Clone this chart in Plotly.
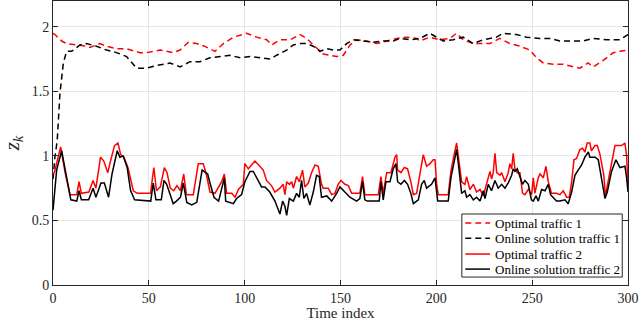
import plotly.graph_objects as go

# ---------------------------------------------------------------------------
# data (time index, z_k)

# optimal traffic 1 (red dashed)
t_opt1 = [0, 1, 4.5, 7.1, 12.3, 17.5, 19.2, 24.5, 27.9, 33.2, 38.4, 45.3, 48.9, 55.9, 62.8,
          66.3, 70.6, 75, 79, 81.9, 84.5, 88.9, 94.1, 101, 106.3, 111.5, 114.1, 118.4, 123.7,
          128.9, 132.3, 135.8, 141, 148, 151.5, 155, 158.4, 163.7, 168.9, 174.1, 179.3, 184.5,
          189.7, 191.4, 196.6, 201.8, 207.1, 210.5, 214, 219.2, 224.4, 227.9, 233.1, 238.4,
          243.6, 248.8, 252.3, 255.8, 261, 266.2, 271.4, 274.9, 279.2, 281.8, 287.1, 292.3,
          295.7, 300]
z_opt1 = [1.95, 1.94, 1.89, 1.87, 1.86, 1.85, 1.84, 1.87, 1.85, 1.83, 1.83, 1.80, 1.80, 1.82, 1.80,
          1.82, 1.88, 1.87, 1.85, 1.83, 1.81, 1.87, 1.92, 1.95, 1.92, 1.90, 1.86, 1.90, 1.90,
          1.94, 1.91, 1.86, 1.79, 1.77, 1.78, 1.86, 1.90, 1.89, 1.87, 1.89, 1.91, 1.92,
          1.91, 1.89, 1.92, 1.90, 1.91, 1.95, 1.90, 1.87, 1.87, 1.87, 1.91, 1.87,
          1.85, 1.82, 1.76, 1.72, 1.71, 1.71, 1.69, 1.68, 1.72, 1.69, 1.74, 1.80,
          1.81, 1.82]

# online solution traffic 1 (black dashed)
t_onl1 = [0, 1, 2.2, 3.65, 5.4, 7.1, 9.7, 14.1, 17.5, 22.7, 27.9, 33.2, 38.4, 43.6, 48.9, 54.1,
          61.1, 66.3, 71.5, 76.7, 81.9, 87.1, 92.3, 97.6, 102.8, 108, 113.2, 116.7, 121.9,
          125.4, 128.9, 132.3, 135.8, 139.3, 142.8, 146.3, 149.7, 153.2, 156.7, 161.9, 167.1,
          172.3, 177.6, 181, 186.3, 191.4, 196.6, 200.1, 203.6, 208.8, 214, 219.2, 224.4,
          231.4, 234.9, 241.8, 247.1, 254, 259.2, 264.4, 271.4, 276.6, 281.8, 288.8, 295.7, 300]
z_onl1 = [0.82, 0.99, 1.12, 1.49, 1.72, 1.81, 1.81, 1.86, 1.87, 1.85, 1.82, 1.80, 1.77, 1.68, 1.68, 1.70,
          1.72, 1.69, 1.73, 1.73, 1.76, 1.77, 1.78, 1.76, 1.77, 1.76, 1.75, 1.78, 1.82,
          1.86, 1.87, 1.87, 1.85, 1.81, 1.83, 1.82, 1.82, 1.87, 1.90, 1.89, 1.88,
          1.89, 1.89, 1.91, 1.90, 1.91, 1.95, 1.92, 1.89, 1.90, 1.92, 1.87, 1.90,
          1.92, 1.95, 1.94, 1.92, 1.91, 1.91, 1.89, 1.89, 1.89, 1.91, 1.90, 1.90, 1.94]

# optimal traffic 2 (red solid)
t_opt2 = [0, 0.7, 4, 6.3, 8.9, 12.4, 13.6, 14.8, 18.7, 20.9, 22.4, 24.8, 26.5, 28.6, 30, 32.1,
          33.9, 35.3, 37, 39.1, 40.5, 41.9, 44, 50.9, 52.6, 54, 56, 58.1, 59.5, 61.2, 63,
          64.7, 66.5, 68.2, 69.6, 73.2, 75.8, 78.4, 80.1, 81.9, 84.5, 88, 89.4, 90.6, 93.2,
          95, 96.7, 99.3, 100.1, 101.9, 103.6, 105.3, 107.9, 109.7, 111.4, 114, 115.8, 118.4,
          120.1, 121, 121.9, 123.3, 124.5, 125.4, 127.1, 128.5, 130.2, 131.4, 133.2, 134.9,
          136.7, 138.4, 140.1, 141, 143.6, 145.4, 147.1, 148.8, 150.2, 152.3, 154.1, 155.8,
          160.1, 161.5, 162.7, 169.7, 171.1, 172.3, 174.1, 176.3, 178.4, 179.3, 179.8, 181.5,
          183.3, 185, 186.7, 188, 189.7, 191.4, 193.2, 194.9, 196.7, 198.4, 199.3, 200.1,
          201, 206.2, 207.6, 209.4, 210.6, 211.8, 213.2, 214.9, 215.8, 217.5, 219.3, 221,
          222.8, 224.5, 226.2, 228, 228.8, 229.7, 230.6, 231.5, 233.2, 234.1, 235.8, 237.5,
          238.4, 239.3, 240.1, 241, 242.2, 243.6, 245, 246.2, 248, 249.7, 250.6, 251.4, 253.2,
          254.1, 255.8, 257.2, 258.4, 259.3, 260.1, 262.7, 264.5, 266.2, 268, 269.4, 270.6,
          271.8, 273.2, 274.9, 276.3, 277.5, 278.7, 280.1, 280.9, 282.8, 284, 285.4, 287.4,
          288.2, 290.6, 293.2, 296.7, 298.4, 299.3, 300]
z_opt2 = [0.86, 0.87, 1.07, 0.87, 0.70, 0.70, 0.80, 0.71, 0.72, 0.81, 0.75, 0.99, 0.96, 0.87, 0.96, 1.08,
          1.10, 1.01, 0.99, 0.91, 0.82, 0.73, 0.71, 0.71, 0.91, 0.73, 0.76, 0.91, 0.87, 0.75, 0.73,
          0.77, 0.73, 0.86, 0.70, 0.70, 0.94, 0.94, 0.85, 0.72, 0.71, 0.80, 0.86, 0.71, 0.71,
          0.68, 0.74, 0.78, 0.94, 0.90, 0.93, 0.96, 0.92, 0.89, 0.81, 0.77, 0.72, 0.75,
          0.78, 0.70, 0.80, 0.78, 0.80, 0.75, 0.84, 0.80, 0.89, 0.76, 0.79, 0.87,
          0.93, 0.92, 0.78, 0.75, 0.75, 0.70, 0.71, 0.78, 0.81, 0.78, 0.77, 0.71,
          0.71, 0.84, 0.70, 0.70, 0.84, 0.71, 0.87, 0.87, 0.99, 1.01, 0.89, 0.87,
          0.91, 0.90, 0.80, 0.70, 0.71, 0.85, 1.01, 0.92, 0.94, 0.97, 0.97, 0.79,
          0.70, 0.70, 0.88, 1.02, 1.10, 0.96, 0.80, 0.78, 0.84, 0.74, 0.78, 0.72,
          0.74, 0.69, 0.78, 0.88, 0.82, 0.87, 1.02, 0.87, 0.85, 0.87, 0.80, 0.87,
          0.94, 0.90, 1.02, 0.90, 0.87, 0.87, 0.71, 0.70, 0.74, 0.70, 0.83, 0.71, 0.83,
          0.86, 0.83, 0.92, 0.80, 0.74, 0.71, 0.71, 0.70, 0.73, 0.68, 0.68, 0.80,
          0.97, 0.98, 1.05, 1.06, 1.03, 1.10, 1.10, 1.04, 1.08, 1.08, 1.01, 0.85,
          0.69, 0.88, 1.08, 1.08, 1.10, 1.00, 0.76]

# online solution traffic 2 (black solid)
t_onl2 = [0, 1.9, 4.5, 6.3, 8, 9.3, 12.4, 13.6, 14.8, 18.6, 20.9, 22.4, 25, 26.8, 29, 30.8, 33.5,
          34.9, 36.6, 38.7, 40.5, 42.6, 51, 52.3, 53.7, 56.5, 57.9, 59.3, 61.6, 62.7, 64.4,
          66.5, 68, 69.8, 72.4, 75, 77.8, 80.7, 81.9, 84, 86.4, 88, 89.4, 90.1, 94.1, 95.8,
          98.4, 100.1, 102.8, 104.5, 107.1, 108.8, 110.6, 113.1, 115.8, 117.9, 118.4, 119.8,
          121, 121.9, 123.3, 125.4, 127.1, 128.5, 129.7, 130.9, 132.3, 134, 135.8, 137.5,
          138.9, 140.1, 142.8, 145.4, 148, 149.7, 152.3, 154.9, 158.4, 160.1, 161.5, 162.7,
          164, 170.2, 171.1, 172.3, 173.7, 175.8, 177.5, 178.9, 179.8, 181.5, 183.3, 185, 186.7,
          188, 190.6, 192.3, 193.7, 194.9, 197.5, 199.3, 200.7, 206.2, 207.6, 209.4, 210.6,
          211.8, 213.2, 214.9, 215.8, 217.5, 219.3, 221, 222.8, 224.5, 225.4, 227.1, 228.8,
          230.6, 232.3, 234.1, 235.8, 237.5, 239.3, 240.1, 241, 242.2, 244.2, 245, 246.2,
          248, 249.6, 250.6, 252, 253.2, 254.9, 256.7, 258.4, 259.6, 262.7, 264.5, 267.1,
          268.8, 270.6, 272.3, 274, 275.8, 277.5, 279.3, 280.1, 282.8, 284.5, 288, 289.2,
          291.4, 293.7, 294.9, 295.8, 298.4, 299.3, 300]
z_onl2 = [0.58, 0.89, 1.04, 0.89, 0.77, 0.66, 0.65, 0.73, 0.66, 0.66, 0.75, 0.68, 0.79, 0.79, 0.68, 0.86, 1.04,
          0.99, 1.00, 0.91, 0.73, 0.66, 0.65, 0.79, 0.66, 0.66, 0.81, 0.78, 0.68, 0.63, 0.65,
          0.68, 0.79, 0.64, 0.62, 0.64, 0.89, 0.86, 0.79, 0.68, 0.65, 0.74, 0.83, 0.65, 0.63, 0.67,
          0.70, 0.80, 0.88, 0.88, 0.81, 0.76, 0.76, 0.72, 0.65, 0.56, 0.55, 0.65, 0.61,
          0.54, 0.67, 0.65, 0.71, 0.68, 0.81, 0.67, 0.71, 0.62, 0.72, 0.85,
          0.84, 0.68, 0.69, 0.65, 0.71, 0.76, 0.72, 0.68, 0.65, 0.67, 0.80, 0.66,
          0.65, 0.65, 0.80, 0.66, 0.80, 0.80, 0.90, 0.94, 0.80, 0.78, 0.81, 0.78, 0.71,
          0.63, 0.66, 0.78, 0.81, 0.75, 0.78, 0.83, 0.65, 0.65, 0.83, 0.97, 1.05,
          0.90, 0.71, 0.73, 0.68, 0.70, 0.66, 0.68, 0.65, 0.73, 0.67, 0.78, 0.73,
          0.81, 0.75, 0.78, 0.75, 0.79, 0.85, 0.90, 0.88, 0.90, 0.80, 0.78, 0.81,
          0.78, 0.66, 0.65, 0.69, 0.65, 0.74, 0.73, 0.78, 0.70, 0.65, 0.65, 0.66,
          0.63, 0.72, 0.85, 0.89, 0.93, 0.99, 1.03, 0.99, 0.99, 0.97, 0.67, 0.72,
          0.88, 0.97, 0.93, 0.91, 0.92, 0.83, 0.72]

x_ticks = [0, 50, 100, 150, 200, 250, 300]
y_ticks = [0, 0.5, 1, 1.5, 2]

series_names = ["Optimal traffic 1", "Online solution traffic 1",
                "Optimal traffic 2", "Online solution traffic 2"]

# ---------------------------------------------------------------------------
# figure

fig = go.Figure()

dash = "6px,4px"
styles = [dict(color="#ff0000", width=1.5, dash=dash),
          dict(color="#000000", width=1.5, dash=dash),
          dict(color="#ff0000", width=1.5),
          dict(color="#000000", width=1.5)]
series = [(t_opt1, z_opt1), (t_onl1, z_onl1), (t_opt2, z_opt2), (t_onl2, z_onl2)]

for (tt, zz), name, st in zip(series, series_names, styles):
    fig.add_trace(go.Scatter(x=tt, y=zz, mode="lines", name=name, line=st, showlegend=False))

serif = "Liberation Serif"
axis_common = dict(showline=True, linecolor="#262626", linewidth=1, mirror="allticks",
                   ticks="inside", ticklen=5, tickcolor="#262626", automargin=False,
                   showgrid=True, gridcolor="#e6e6e6", gridwidth=1, zeroline=False,
                   tickfont=dict(family=serif, size=14, color="#262626"))

fig.update_xaxes(range=[0, 300], tickvals=x_ticks, ticktext=[str(v) for v in x_ticks],
                 title=dict(text="Time index", standoff=0,
                            font=dict(family=serif, size=15, color="#262626")),
                 **axis_common)
fig.update_yaxes(range=[0, 2.2], tickvals=y_ticks, ticktext=["0", "0.5", "1", "1.5", "2"],
                 title=dict(text="<i>z</i><sub><i>k</i></sub>", standoff=6,
                            font=dict(family=serif, size=21, color="#262626")),
                 **axis_common)

# hand-drawn legend box (MATLAB style, compact rows)
fig.add_shape(type="rect", xref="paper", yref="paper", x0=0.711, x1=0.99, y0=0.028, y1=0.25,
              line=dict(color="#262626", width=1), fillcolor="white", layer="above")
row_y = [0.218, 0.165, 0.109, 0.056]
for name, st, yy in zip(series_names, styles, row_y):
    fig.add_shape(type="line", xref="paper", yref="paper", x0=0.717, x1=0.760, y0=yy, y1=yy,
                  line=st, layer="above")
    fig.add_annotation(xref="paper", yref="paper", x=0.766, y=yy, text=name, showarrow=False,
                       xanchor="left", yanchor="middle",
                       font=dict(family=serif, size=13, color="#000000"))

fig.update_layout(
    width=640, height=321,
    margin=dict(l=53, r=12, t=1, b=36),
    plot_bgcolor="white", paper_bgcolor="white",
    showlegend=False,
)

# drop the default 8px page margin so the figure sits at the window corner
fig.write_html("out.html", config={"displayModeBar": False},
               post_script="document.body.style.margin='0';")
